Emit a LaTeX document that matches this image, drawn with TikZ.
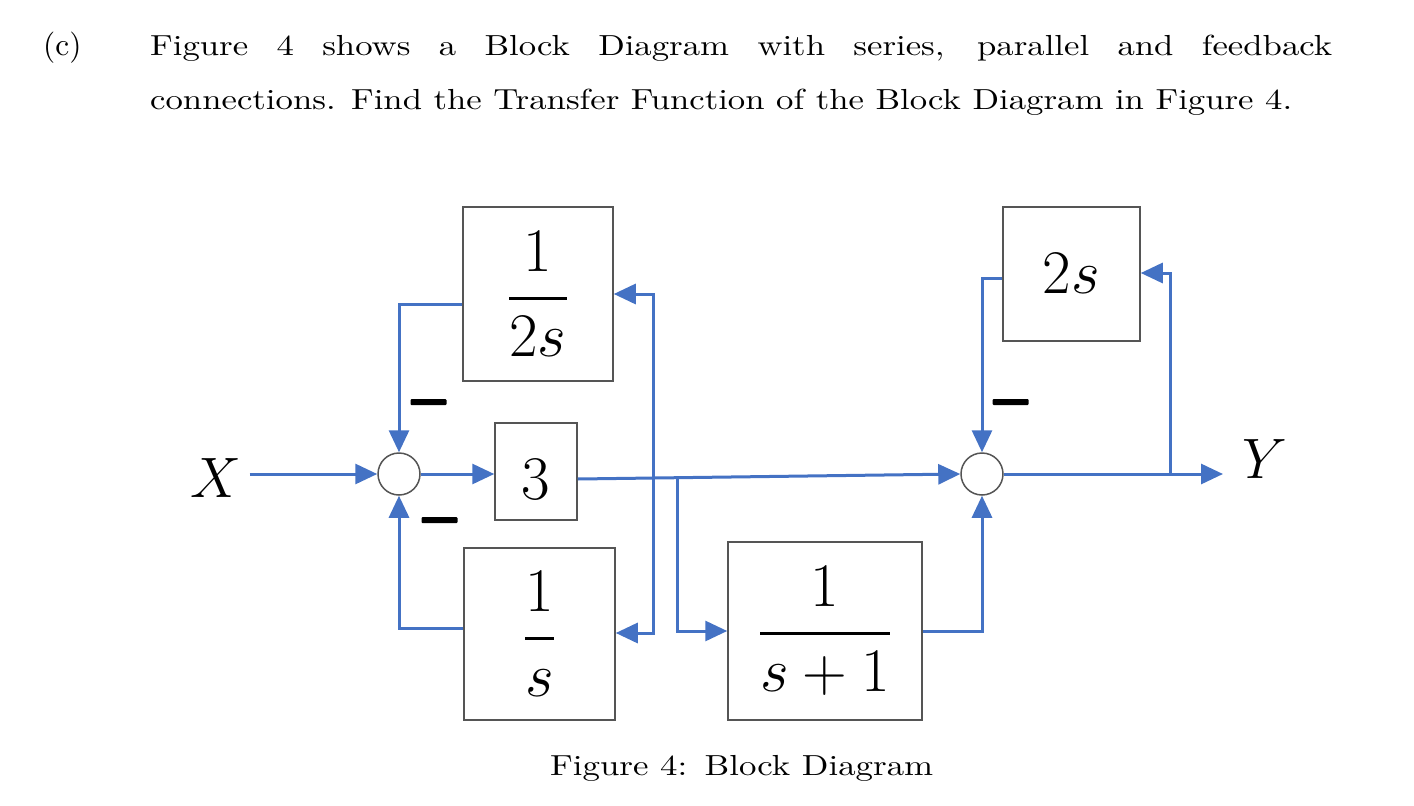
\RequirePackage{fix-cm}
\documentclass[tikz,border=0pt]{standalone}
\usepackage{fontspec}
\usepackage{graphicx}
\usetikzlibrary{arrows.meta}
\newfontfamily\tfont{lmroman10-regular.otf}
\definecolor{sigblue}{HTML}{4472C4}
\definecolor{boxgray}{HTML}{555555}
\newlength\lnw
\newcommand\tfr[2]{{\displaystyle{#1\above2.8pt#2}}}
\begin{document}
\settowidth{\lnw}{\tfont\fontsize{29}{35}\selectfont connections. Find the Transfer Function of the Block Diagram in Figure 4.}
\pgfmathsetmacro\lsc{1142/\lnw}
\pgfmathsetmacro\wone{1182/\lsc}
\begin{tikzpicture}[x=1pt,y=-1pt,
  blk/.style={draw=boxgray, line width=1.5pt, fill=white, inner sep=0pt,
    font=\fontsize{62}{70}\selectfont},
  sumc/.style={circle, draw=boxgray, line width=1.5pt, fill=white,
    minimum size=42pt, inner sep=0pt},
  sig/.style={draw=sigblue, line width=3pt},
  arr/.style={sig, -{Triangle[length=22pt,width=20pt]}},
  minusbar/.style={fill=black, rounded corners=1pt, minimum width=36pt,
    minimum height=6pt, inner sep=0pt},
  lbl/.style={inner sep=0pt, font=\fontsize{57}{64}\selectfont},
  txt/.style={inner sep=0pt, anchor=base west, font=\tfont\fontsize{29}{35}\selectfont}]
\useasboundingbox (0,0) rectangle (1414,806);
% text
\node[txt] (cl) at (43,55) {\scalebox{1.08}{(c)}};
\node[txt] (l1) at (150,55) {\scalebox{\lsc}[1]{\makebox[\wone pt][s]{Figure 4 shows a Block Diagram with series, parallel and feedback}}};
\node[txt] (l2) at (150,109) {\resizebox{1142pt}{\height}{connections. Find the Transfer Function of the Block Diagram in Figure 4.}};
\node[txt] (cap) at (550,775) {\resizebox{383pt}{\height}{Figure 4:\enspace Block Diagram}};
% blocks
\node[blk, minimum width=150pt, minimum height=174pt] (b1) at (538,294) {$\tfr{1}{2s}$};
\node[blk, minimum width=82pt, minimum height=97pt] (b3) at (536,471.5) {};
\node[inner sep=0pt, font=\fontsize{62}{70}\selectfont] (t3) at (536,480) {$3$};
\node[blk, minimum width=151pt, minimum height=172pt] (b2) at (539.5,634) {$\tfr{1}{s}$};
\node[blk, minimum width=194pt, minimum height=178pt] (b4) at (825,631) {$\tfr{1}{s+1}$};
\node[blk, minimum width=137pt, minimum height=134pt] (b5) at (1071.5,274) {$2s$};
% summing junctions
\node[sumc] (s1) at (399,474) {};
\node[sumc] (s2) at (982,474) {};
% labels
\node[lbl] (xl) at (216,478) {$X$};
\node[lbl] (yl) at (1265,459) {$Y$};
% minus signs
\node[minusbar] (m1) at (428.5,402) {};
\node[minusbar] (m2) at (439.5,520) {};
\node[minusbar] (m3) at (1010.5,402) {};
% junction coordinates
\coordinate (j1) at (653,478);
\coordinate (j2) at (677,477.7);
\coordinate (j3) at (1170,474);
\coordinate (yend) at (1223,474);
% connectors
\draw[arr] ([xshift=8pt]xl.east |- s1.west) -- (s1.west);
\draw[arr] (s1.east) -- (s1.east -| b3.west);
\draw[arr] ([yshift=-7.5pt]b3.east) -- (s2.west);
\draw[arr] (j1) |- (b1.east);
\draw[arr] (j1) |- ([yshift=1pt]b2.east);
\draw[arr] (j2) |- (b4.west);
\draw[arr] ([yshift=-10pt]b1.west) -| (s1.north);
\draw[arr] ([yshift=6pt]b2.west) -| (s1.south);
\draw[arr] (b4.east) -| (s2.south);
\draw[arr] ([yshift=-4pt]b5.west) -| (s2.north);
\draw[arr] (s2.east) -- (yend);
\draw[arr] (j3) |- ([yshift=1pt]b5.east);
\end{tikzpicture}
\end{document}
